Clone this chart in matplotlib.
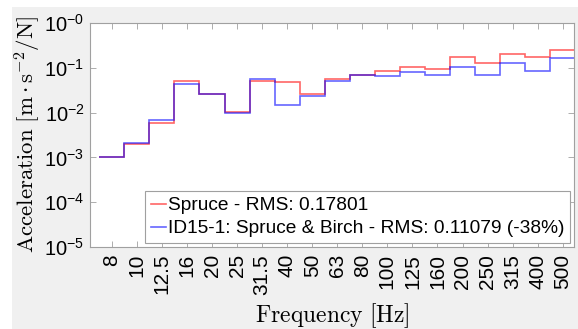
import matplotlib
matplotlib.use("Agg")
import matplotlib.pyplot as plt
import numpy as np
from matplotlib.patches import Rectangle
from matplotlib.ticker import LogLocator, FixedLocator, NullLocator

plt.rcParams['mathtext.fontset'] = 'custom'
plt.rcParams['mathtext.rm'] = 'Liberation Sans'
plt.rcParams['mathtext.it'] = 'Liberation Sans:italic'
plt.rcParams['mathtext.bf'] = 'Liberation Sans:bold'
plt.rcParams['mathtext.sf'] = 'Liberation Sans'
plt.rcParams['font.family'] = ['Liberation Sans', 'DejaVu Sans']

bands = ["8", "10", "12.5", "16", "20", "25", "31.5", "40", "50", "63", "80",
         "100", "125", "160", "200", "250", "315", "400", "500"]
spruce = [1.0e-3, 2.0e-3, 5.8e-3, 0.051, 0.026, 0.0102, 0.050, 0.048, 0.026, 0.057,
          0.069, 0.084, 0.103, 0.093, 0.178, 0.125, 0.207, 0.175, 0.249]
birch = [1.0e-3, 2.1e-3, 7.0e-3, 0.043, 0.026, 0.0096, 0.057, 0.0148, 0.0233, 0.051,
         0.069, 0.065, 0.080, 0.068, 0.103, 0.068, 0.129, 0.086, 0.163]
yticks = [1e0, 1e-1, 1e-2, 1e-3, 1e-4, 1e-5]
ylabels = ["-0", "-1", "-2", "-3", "-4", "-5"]

fig = plt.figure(figsize=(5.78, 3.29), dpi=100, facecolor='white')
fig.patches.append(Rectangle((12/578, 0), 1, 1 - 7/329, transform=fig.transFigure,
                             facecolor='#f0f0f0', edgecolor='none', zorder=-10))
ax = fig.add_axes([90/578, 1 - 247/329, (574 - 90)/578, (247 - 23)/329])
ax.set_facecolor('white')

idx = np.arange(len(bands))
edges = np.concatenate([idx - 0.5, [idx[-1] + 0.5]])
ax.stairs(spruce, edges, color=(1, 0, 0), alpha=0.6, lw=1.2,
          label='Spruce - RMS: 0.17801', baseline=None)
ax.stairs(birch, edges, color=(0, 0, 1), alpha=0.6, lw=1.2,
          label='ID15-1: Spruce & Birch - RMS: 0.11079 (-38%)', baseline=None)

ax.set_yscale('log')
ax.set_ylim(1e-5, 1e0)
ax.set_xlim(-0.87, 18.45)
ax.set_yticks(yticks)
ax.set_yticklabels([r'$\mathregular{10^{%s}}$' % s for s in ylabels])
ax.yaxis.set_minor_locator(LogLocator(base=10, subs=np.arange(2, 10)))
ax.set_xticks(idx)
ax.set_xticklabels(bands, rotation=90)
ax.xaxis.set_minor_locator(NullLocator())

for s in ax.spines.values():
    s.set_color('#a0a0a0')
    s.set_linewidth(0.8)
ax.tick_params(which='both', direction='in', top=True, right=True, color='#a0a0a0')
ax.tick_params(which='major', length=4, width=0.6, pad=4)
ax.tick_params(which='minor', length=2, width=0.5)
ax.tick_params(axis='x', labelsize=15, pad=5)
ax.tick_params(axis='y', labelsize=14.5)

ax.set_ylabel(r'$\mathrm{Acceleration}\ [\mathrm{m}\cdot\mathrm{s}^{-2}/\mathrm{N}]$',
              fontsize=16.5, math_fontfamily='cm', labelpad=1)
ax.set_xlabel(r'$\mathrm{Frequency}\ [\mathrm{Hz}]$', fontsize=17,
              math_fontfamily='cm', labelpad=5)

leg = ax.legend(loc='lower right', fontsize=13.8, handlelength=0.8, handletextpad=0.1,
                borderaxespad=0.2, borderpad=0.3, labelspacing=0.3,
                fancybox=False, framealpha=1, edgecolor='#a0a0a0')
leg.get_frame().set_linewidth(0.8)

fig.savefig('out.png', dpi=100, facecolor=fig.get_facecolor())
